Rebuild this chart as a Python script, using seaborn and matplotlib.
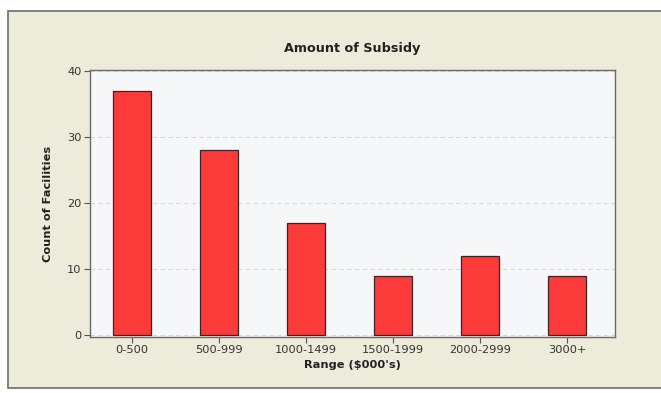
import matplotlib
matplotlib.use("Agg")
import matplotlib.pyplot as plt
from matplotlib.patches import Rectangle
import seaborn as sns
import pandas as pd

# Number of facilities in each subsidy range
ranges = ["0-500", "500-999", "1000-1499", "1500-1999", "2000-2999", "3000+"]
counts = [37, 28, 17, 9, 12, 9]
y_ticks = [0, 10, 20, 30, 40]

df = pd.DataFrame({"Range": ranges, "Count": counts})

sns.set_theme(style="white")
plt.rcParams["font.family"] = ["DejaVu Sans"]

fig = plt.figure(figsize=(6.61, 3.93), dpi=100, facecolor="white")

# Beige panel with a thin grey frame behind the chart
fig.patches.append(Rectangle((8 / 661, 5 / 393), 660 / 661, 377 / 393,
                             transform=fig.transFigure, facecolor="#edebda",
                             edgecolor="#6d6d6d", linewidth=1.2, zorder=-10))

ax = fig.add_axes([90 / 661, 56 / 393, 525 / 661, 267 / 393])
ax.set_facecolor("#f6f7f9")

sns.barplot(data=df, x="Range", y="Count", color="#fb3a3a", width=0.43,
            saturation=1, edgecolor="#3a2424", linewidth=0.9, ax=ax, zorder=3)

ax.set_ylim(-0.3, 40.2)
ax.set_xlim(-0.48, 5.55)
ax.set_yticks(y_ticks)
ax.yaxis.grid(True, linestyle=(0, (4, 3)), color="#d8d8dc", linewidth=0.8, zorder=0)
ax.xaxis.grid(False)

for s in ax.spines.values():
    s.set_color("#6a6a6a")
    s.set_linewidth(1.0)

ax.tick_params(axis="both", which="both", direction="out", length=4, width=0.8,
               color="#555555", labelsize=8.2, labelcolor="#333333", pad=2,
               bottom=True, left=True)

ax.set_xlabel("Range ($000's)", fontsize=8.2, fontweight="bold", color="#222222", labelpad=3)
ax.set_ylabel("Count of Facilities", fontsize=8.2, fontweight="bold", color="#222222", labelpad=10)
ax.set_title("Amount of Subsidy", fontsize=9.2, fontweight="bold", color="#222222", pad=13)

fig.savefig("out.png", dpi=100, facecolor=fig.get_facecolor())
